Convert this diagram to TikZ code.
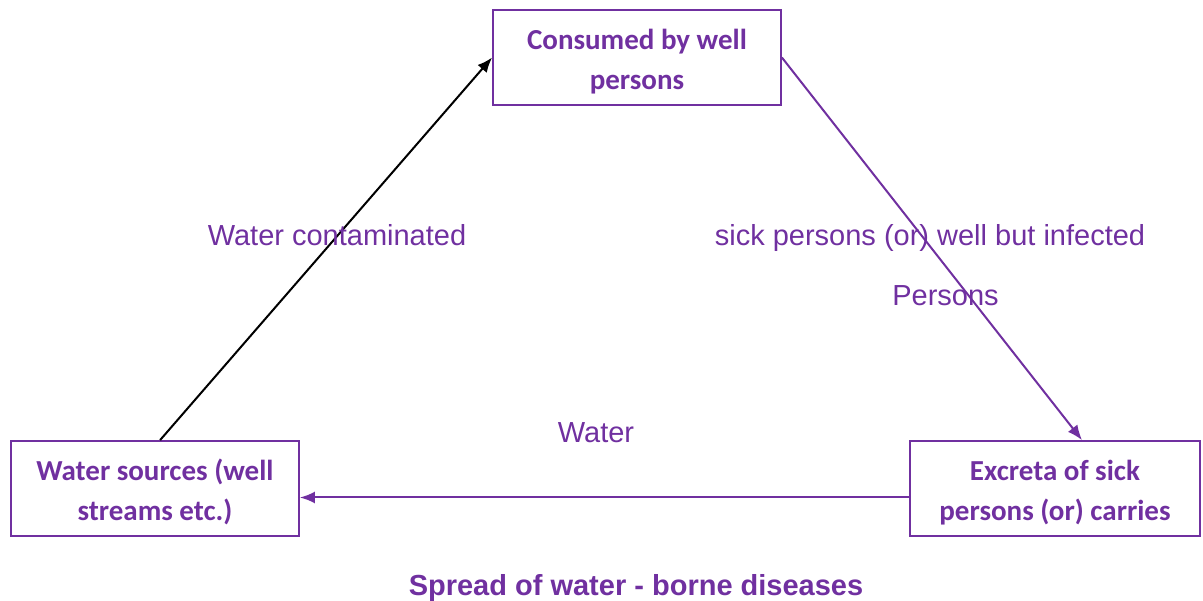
\documentclass[tikz,border=0pt]{standalone}
\usepackage{fontspec}
\setmainfont{Liberation Sans}
\newfontfamily\boxfont{Carlito}
\usetikzlibrary{arrows.meta,positioning,calc}
\definecolor{wpurple}{RGB}{112,48,160}
\newcommand{\lowstrut}{\rule{0pt}{28pt}}
\begin{document}
\begin{tikzpicture}[x=1pt,y=-1pt,>={Latex[length=15pt,width=12pt]},
 box/.style={draw=wpurple,line width=1.8pt,minimum height=95pt,align=center,
  text=wpurple,font=\boxfont\bfseries\fontsize{29}{40}\selectfont},
 lab/.style={anchor=base,text=wpurple,font=\fontsize{29}{35}\selectfont,inner sep=0pt}]
\useasboundingbox (0,0) rectangle (1203,601);
\node[box,minimum width=288pt] (cons) at (637,57.5) {\lowstrut Consumed by well\\persons};
\node[box,minimum width=288pt] (src) at (155,488.5) {\lowstrut Water sources (well\\streams etc.)};
\node[box,minimum width=290pt] (excr) at (1055,488.5) {\lowstrut Excreta of sick\\persons (or) carries};
\draw[->,line width=2pt] ([xshift=150pt]src.north west) -- (cons.west);
\draw[->,wpurple,line width=2pt] (cons.east) -- ([xshift=27pt]excr.north);
\draw[->,wpurple,line width=2pt] ([yshift=-9pt]excr.west) -- ([yshift=-9pt]src.east);
\node[lab] (lwc) at (337,246) {Water contaminated};
\node[lab] (lsick) at (930,246) {sick persons (or) well but infected};
\node[lab] (lpers) at (945.5,306) {Persons};
\node[lab] (lwat) at (596,443) {Water};
\node[lab,font=\bfseries\fontsize{29}{35}\selectfont] (title) at (636,595) {Spread of water - borne diseases};
\end{tikzpicture}
\end{document}
